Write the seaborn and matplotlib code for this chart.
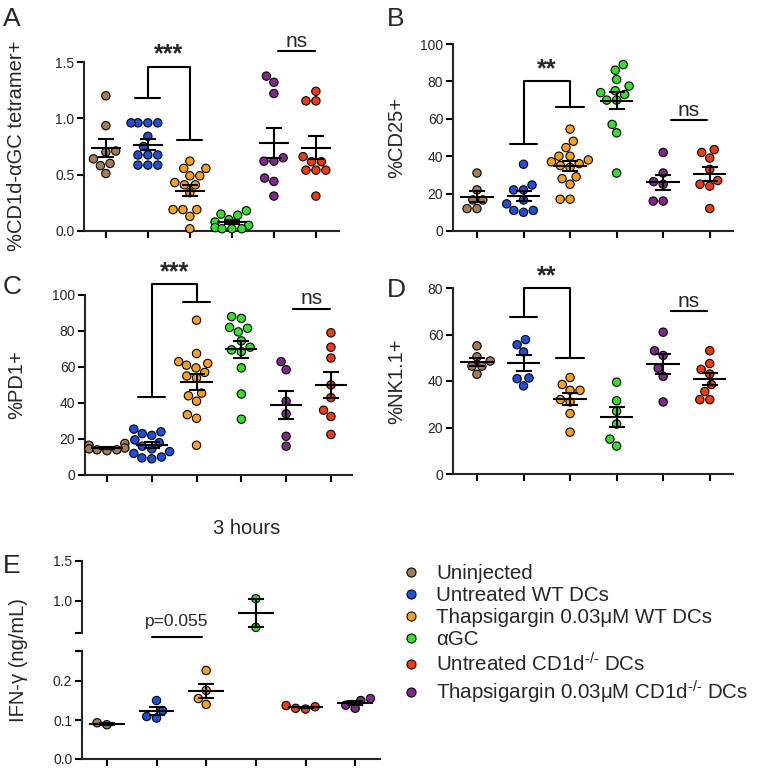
import matplotlib
matplotlib.use("Agg")
import matplotlib.pyplot as plt
from matplotlib.lines import Line2D
import numpy as np
import pandas as pd
import seaborn as sns

# group names / colours
groups = ['Uninjected', 'Untreated WT DCs', 'Thapsigargin 0.03\u03bcM WT DCs', '\u03b1GC',
          'Untreated CD1d$^{\\text{-/-}}$ DCs', 'Thapsigargin 0.03\u03bcM CD1d$^{\\text{-/-}}$ DCs']
colors = ['#a47d52', '#1f4fd8', '#f7a020', '#33e02a', '#f03a10', '#7f2a8a']

# panels A-D order: uninj, untreated WT, thaps WT, aGC, thaps CD1d, untreated CD1d
order_ad = [0, 1, 2, 3, 5, 4]
# panel E order: uninj, untreated WT, thaps WT, aGC, untreated CD1d, thaps CD1d
order_e = [0, 1, 2, 3, 4, 5]

# A: %CD1d-aGC tetramer+
tet_vals = [
    [1.20, 0.935, 0.71, 0.70, 0.64, 0.60, 0.58, 0.51],
    [0.96, 0.96, 0.96, 0.96, 0.84, 0.75, 0.675, 0.675, 0.675, 0.585, 0.585, 0.585],
    [0.62, 0.556, 0.556, 0.49, 0.49, 0.43, 0.41, 0.41, 0.34, 0.19, 0.19, 0.19, 0.13, 0.02],
    [0.18, 0.15, 0.14, 0.10, 0.08, 0.05, 0.03, 0.02, 0.02, 0.02],
    [1.375, 1.32, 1.22, 0.65, 0.62, 0.62, 0.47, 0.44, 0.31],
    [1.24, 1.155, 1.155, 0.66, 0.615, 0.615, 0.54, 0.54, 0.54, 0.31],
]
# B: %CD25+
cd25_vals = [
    [31, 22, 16.6, 16.6, 12, 12],
    [35.7, 24.6, 22, 22, 16.6, 14.5, 11, 10, 11],
    [54.5, 48, 44.6, 40, 40, 38, 37, 36, 35, 34, 29, 28, 25, 17, 17],
    [89, 86, 81, 77.5, 75, 74, 73, 70, 70, 57, 52.5, 31],
    [42, 31, 26.4, 25, 16, 16],
    [43.5, 42, 39, 33, 27, 25, 24, 12],
]
# C: %PD1+
pd1_vals = [
    [17.5, 16.5, 15, 14.5, 14, 14, 13.5],
    [25.5, 24, 23, 22, 19.5, 18, 16, 14.5, 13, 12, 10, 9.5, 9],
    [86, 67.5, 63, 62, 61, 59.5, 57, 55, 54, 45.5, 44, 41, 33.5, 31.5, 16.5],
    [88, 87, 82, 81.5, 79.5, 74.5, 71, 69.5, 68.5, 59.5, 45, 31],
    [63, 58.5, 41, 34, 21.5, 16],
    [79, 71, 65, 50, 43, 36, 32.5, 22.5],
]
# D: %NK1.1+
nk_vals = [
    [55.1, 50.4, 48.6, 46.4, 46.4, 42.9],
    [57.8, 55.6, 52.5, 41.3, 41, 37.9],
    [41.5, 38.5, 36, 36, 32, 31, 26, 18],
    [39.5, 31.5, 27, 21.5, 15, 12],
    [61, 53, 51, 45.5, 42, 31],
    [53, 47.5, 45, 43, 38.5, 35.5, 32, 32],
]
# E: IFN-g (ng/mL), 3 hours
ifn_vals = [
    [0.093, 0.088],
    [0.150, 0.124, 0.109, 0.105],
    [0.227, 0.176, 0.155, 0.140],
    [1.025, 0.664],
    [0.137, 0.134, 0.130, 0.128],
    [0.155, 0.150, 0.138, 0.130],
]

sns.set_theme(style='ticks')
plt.rcParams['font.family'] = ['Liberation Sans', 'DejaVu Sans']
plt.rcParams['mathtext.fontset'] = 'custom'
plt.rcParams['mathtext.rm'] = 'Liberation Sans'
plt.rcParams['mathtext.it'] = 'Liberation Sans'

W, H = 762, 768
fig = plt.figure(figsize=(W / 100, H / 100), dpi=100)
LW = 1.5


def panel_ax(left, right, y0, ytick_px, ytick_val, ymax, ymin=0.0):
    ppu = (y0 - ytick_px) / (ytick_val - ymin)
    top = y0 - (ymax - ymin) * ppu
    ax = fig.add_axes([left / W, 1 - y0 / H, (right - left) / W, (y0 - top) / H])
    return ax


def draw_groups(ax, vals, order, xlim, ylim, clip=False):
    names = [groups[i] for i in order]
    pal = {groups[i]: colors[i] for i in order}
    rows = [(names[k], v) for k, g in enumerate(vals) for v in g]
    df = pd.DataFrame(rows, columns=['group', 'value'])
    sns.swarmplot(data=df, x='group', y='value', hue='group', order=names,
                  palette=pal, legend=False, size=6.0, edgecolor='black',
                  linewidth=0.8, ax=ax, zorder=3)
    stats = df.groupby('group', sort=False)['value'].agg(['mean', 'sem'])
    for k, n in enumerate(names):
        m, s = stats.loc[n, 'mean'], stats.loc[n, 'sem']
        if np.isnan(s):
            s = 0
        ax.hlines(m, k - 0.36, k + 0.36, color='black', lw=LW, zorder=4, clip_on=clip)
        ax.errorbar(k, m, yerr=s, color='black', lw=LW, capsize=5.5, capthick=LW,
                    zorder=4, clip_on=clip)
    if not clip:
        for c in ax.collections:
            c.set_clip_on(False)
    ax.set_xlim(*xlim)
    ax.set_ylim(*ylim)
    ax.set_xticks(range(6))
    ax.set_xticklabels([])
    ax.set_xlabel('')
    ax.set_ylabel('')
    sns.despine(ax=ax)
    for sp in ['left', 'bottom']:
        ax.spines[sp].set_linewidth(LW)
    ax.tick_params(axis='both', direction='out', length=5, width=LW, labelsize=10,
                   color='black', pad=2)


def bracket(ax, top, left_end, right_end, stars, cap=0.3):
    ax.plot([1, 1, 2, 2], [left_end, top, top, right_end], color='black', lw=LW, clip_on=False)
    ax.plot([1 - cap, 1 + cap], [left_end, left_end], color='black', lw=LW, clip_on=False)
    ax.plot([2 - cap, 2 + cap], [right_end, right_end], color='black', lw=LW, clip_on=False)
    ax.text(1.5, top, stars, ha='center', va='bottom', fontsize=18, fontweight='bold')


def ns_line(ax, y, label='ns', x0=4.12, x1=4.97, fs=15):
    ax.plot([x0, x1], [y, y], color='black', lw=LW, clip_on=False)
    ax.text((x0 + x1) / 2, y, label, ha='center', va='bottom', fontsize=fs)


# ---- A ----
axA = panel_ax(84, 339, 231, 62, 1.5, 1.75)
draw_groups(axA, tet_vals, order_ad, (-0.52, 5.55), (0, 1.75))
axA.set_yticks([0, 0.5, 1.0, 1.5])
axA.set_yticklabels(['0.0', '0.5', '1.0', '1.5'])
axA.spines['left'].set_bounds(0, 1.5)
bracket(axA, 1.46, 1.18, 0.81, '***')
ns_line(axA, 1.6, x0=4.1, x1=4.98)

# ---- B ----
axB = panel_ax(453, 733, 231, 44, 100, 100)
draw_groups(axB, cd25_vals, order_ad, (-0.515, 5.5), (0, 100))
axB.set_yticks([0, 20, 40, 60, 80, 100])
axB.spines['left'].set_bounds(0, 100)
bracket(axB, 80, 46.5, 66.5, '**')
ns_line(axB, 59.5, x0=4.16, x1=4.95)

# ---- C ----
axC = panel_ax(85, 352, 475, 295, 100, 115)
draw_groups(axC, pd1_vals, order_ad, (-0.49, 5.47), (0, 115))
axC.set_yticks([0, 20, 40, 60, 80, 100])
axC.spines['left'].set_bounds(0, 100)
bracket(axC, 106, 43.5, 96, '***')
ns_line(axC, 92.5, x0=4.15, x1=4.98)

# ---- D ----
axD = panel_ax(453, 733, 474, 288, 80, 88)
draw_groups(axD, nk_vals, order_ad, (-0.515, 5.5), (0, 88))
axD.set_yticks([0, 20, 40, 60, 80])
axD.spines['left'].set_bounds(0, 80)
bracket(axD, 80, 67.5, 50, '**')
ns_line(axD, 70, x0=4.16, x1=4.95)

# ---- E (broken axis) ----
e_lo_top = 0.277
e_hi_bot = 0.593
axE1 = panel_ax(82, 380, 759, 681, 0.2, e_lo_top)
draw_groups(axE1, ifn_vals, order_e, (-0.5, 5.5), (0, e_lo_top), clip=True)
axE1.set_yticks([0, 0.1, 0.2, e_lo_top])
axE1.set_yticklabels(['0.0', '0.1', '0.2', ''])
axE1.spines['left'].set_bounds(0, e_lo_top)
ns_line(axE1, 0.313, label='', x0=0.9, x1=1.92)
axE1.text(1.4, 0.333, 'p=0.055', ha='center', va='bottom', fontsize=12.5)

axE2 = panel_ax(82, 380, 633, 561, 1.5, 1.5, ymin=e_hi_bot)
draw_groups(axE2, ifn_vals, order_e, (-0.5, 5.5), (e_hi_bot, 1.5), clip=True)
axE2.set_yticks([e_hi_bot, 1.0, 1.5])
axE2.set_yticklabels(['', '1.0', '1.5'])
axE2.spines['left'].set_bounds(e_hi_bot, 1.5)
axE2.spines['bottom'].set_visible(False)
axE2.set_xticks([])
axE2.patch.set_alpha(0)
axE1.patch.set_alpha(0)

# ---- texts ----
for lab, x, y in [('A', 3, 7), ('B', 387, 7), ('C', 3, 275), ('D', 387, 278), ('E', 3, 554)]:
    fig.text(x / W, 1 - y / H, lab, fontsize=19, ha='left', va='top')

for lab, x, y in [('%CD1d-\u03b1GC tetramer+', 17, 146), ('%CD25+', 397, 137),
                  ('%PD1+', 17, 385), ('%NK1.1+', 397, 381), ('IFN-\u03b3 (ng/mL)', 19, 660)]:
    fig.text(x / W, 1 - y / H, lab, fontsize=14.5, rotation=90, ha='center', va='center')

fig.text(247 / W, 1 - 528 / H, '3 hours', fontsize=14.5, ha='center', va='center')

handles = [Line2D([], [], marker='o', ls='', markerfacecolor=c, markeredgecolor='black',
                  markersize=6.5, markeredgewidth=0.8) for c in colors]
fig.legend(handles, groups, loc='upper left', bbox_to_anchor=(401 / W, 1 - 564 / H),
           frameon=False, fontsize=14.8, handlelength=1.0, handletextpad=0.7,
           labelspacing=0.15, borderpad=0, borderaxespad=0)

fig.savefig('out.png', dpi=100)
